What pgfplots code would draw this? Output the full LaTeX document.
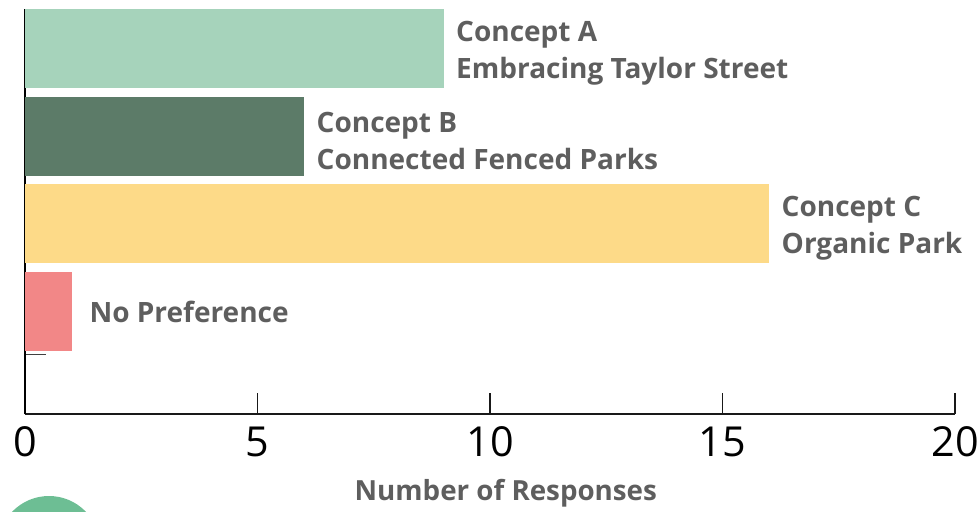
\documentclass[border=0pt]{standalone}
\usepackage{fontspec}
\setmainfont{Open Sans}
\usepackage{pgfplots}
\pgfplotsset{compat=1.18}

\definecolor{barA}{HTML}{A6D3BB}
\definecolor{barB}{HTML}{5C7B68}
\definecolor{barC}{HTML}{FDDA88}
\definecolor{barN}{HTML}{F28787}
\definecolor{labgray}{HTML}{5E5E5E}
\definecolor{dotgreen}{HTML}{6DBE94}

\begin{document}
\begin{tikzpicture}[x=0.75pt,y=0.75pt]
% page = 980 x 511 px
\path[use as bounding box] (0,0) rectangle (980,511);

\begin{axis}[
    at={(18.75pt,72.75pt)}, anchor=south west,
    scale only axis,
    width=697.5pt, height=303.75pt,
    xbar, bar shift=0pt, bar width=0.9,
    xmin=0, xmax=20,
    ymin=-1.168, ymax=3.45,
    axis lines=left,
    axis line style={-},
    x axis line style={line width=1pt, draw=black!90},
    y axis line style={line width=1.6pt, draw=black},
    xtick={0,5,10,15,20},
    ytick={-0.49}, yticklabels={},
    y tick style={line width=0.8pt, draw=black!75},
    x tick style={line width=0.9pt, draw=black!90},
    tick align=inside,
    major tick length=16pt,
    /pgf/number format/assume math mode=true,
    xticklabel style={font=\fontsize{31}{31}\selectfont, yshift=-6pt},
    xlabel={Number of Responses},
    xlabel style={at={(axis description cs:0.517,0)}, anchor=center,
        yshift=-59.5pt, font=\fontsize{20.8}{20.8}\selectfont\bfseries, text=labgray},
    nodes near coords style={anchor=west, align=left, xshift=6pt, yshift=-3.5pt,
        font=\fontsize{21}{28}\selectfont\bfseries, text=labgray},
    clip=false,
]
\addplot[fill=barA, draw=none, nodes near coords={Concept A\\Embracing Taylor Street}]
    coordinates {(9,3)};
\addplot[fill=barB, draw=none, nodes near coords={Concept B\\Connected Fenced Parks}]
    coordinates {(6,2)};
\addplot[fill=barC, draw=none, nodes near coords={Concept C\\Organic Park}]
    coordinates {(16,1)};
\addplot[fill=barN, draw=none, nodes near coords={No Preference},
    nodes near coords style={xshift=4pt, yshift=3.5pt}]
    coordinates {(1,0)};
\end{axis}

% decorative dot, cut by the page edge
\fill[dotgreen] (49,-36) circle[radius=51];
\end{tikzpicture}
\end{document}
